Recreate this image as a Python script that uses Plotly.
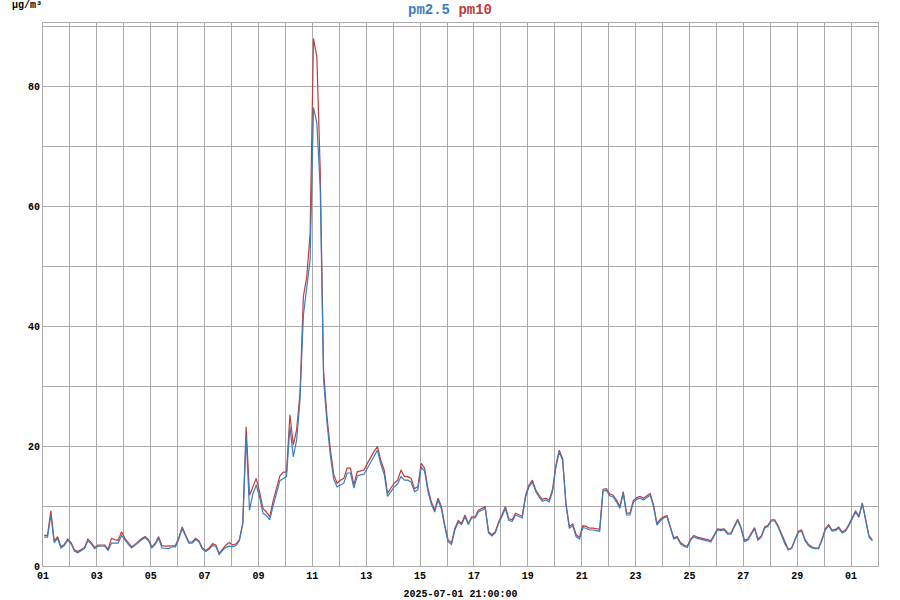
import pandas as pd
import plotly.graph_objects as go

start_time = "2025-06-01 01:00"
step = "3h"

pm25 = [
    4.8, 4.8, 8.5, 3.9, 4.6, 3.0, 3.4, 4.3,        # Jun 01
    3.7, 2.5, 2.2, 2.5, 2.9, 4.2, 3.7, 2.9,        # Jun 02
    3.3, 3.3, 3.3, 2.6, 3.8, 3.8, 3.8, 5.1,        # Jun 03
    4.3, 3.6, 3.0, 3.4, 3.9, 4.4, 4.7, 4.2,        # Jun 04
    3.0, 3.6, 4.6, 3.0, 3.0, 2.9, 3.2, 3.2,        # Jun 05
    4.5, 6.2, 5.0, 3.8, 3.8, 4.4, 4.0, 2.8,        # Jun 06
    2.4, 2.8, 3.4, 3.3, 1.9, 2.6, 3.1, 3.3,        # Jun 07
    3.2, 3.4, 4.2, 7.0, 21.6, 9.3, 12.0, 13.5,     # Jun 08
    11.5, 8.8, 8.4, 7.7, 10.0, 12.3, 14.2, 14.6,   # Jun 09
    14.9, 23.2, 18.2, 21.0, 27.7, 41.8, 46.0, 51.0,  # Jun 10
    76.4, 73.8, 63.0, 31.0, 24.0, 18.5, 14.5, 13.2,  # Jun 11
    13.5, 13.8, 15.5, 15.5, 13.0, 15.0, 15.2, 15.3,  # Jun 12
    16.3, 17.3, 18.5, 19.3, 17.0, 15.3, 11.6, 12.5,  # Jun 13
    13.2, 13.7, 14.9, 14.3, 14.3, 14.0, 12.4, 12.7,  # Jun 14
    16.5, 15.8, 12.4, 10.3, 9.0, 11.0, 9.5, 6.5,     # Jun 15
    4.0, 3.6, 6.0, 7.3, 6.9, 8.2, 6.9, 8.0,          # Jun 16
    8.0, 9.0, 9.3, 9.6, 5.5, 5.0, 5.5, 7.1,          # Jun 17
    8.3, 9.6, 7.6, 7.4, 8.5, 8.2, 8.0, 11.5,         # Jun 18
    13.2, 14.0, 12.4, 11.5, 10.8, 11.0, 10.7, 12.4,  # Jun 19
    16.5, 19.0, 17.6, 10.1, 6.3, 6.7, 4.9, 4.5,      # Jun 20
    6.4, 6.3, 6.0, 6.0, 5.9, 5.8, 12.5, 12.6,        # Jun 21
    11.7, 11.5, 10.7, 9.6, 12.1, 8.5, 8.5, 10.6,     # Jun 22
    11.1, 11.3, 11.0, 11.4, 11.8, 9.9, 6.8, 7.5,     # Jun 23
    8.0, 8.2, 6.2, 4.5, 4.7, 3.7, 3.3, 3.1,          # Jun 24
    4.3, 4.9, 4.6, 4.5, 4.4, 4.2, 4.0, 5.1,          # Jun 25
    6.0, 5.9, 6.0, 5.3, 5.3, 6.5, 7.6, 6.2,          # Jun 26
    4.1, 4.3, 5.3, 6.2, 4.3, 4.8, 6.3, 6.6,          # Jun 27
    7.5, 7.5, 6.5, 5.1, 3.7, 2.7, 2.9, 4.3,          # Jun 28
    5.6, 5.8, 4.2, 3.4, 3.0, 2.9, 2.9, 4.2,          # Jun 29
    6.0, 6.7, 5.8, 5.9, 6.3, 5.5, 5.8, 6.7,          # Jun 30
    7.8, 9.0, 8.1, 10.4, 7.6, 4.8, 4.2,              # Jul 01
]

pm10 = [
    5.1, 5.1, 9.2, 4.1, 4.9, 3.2, 3.6, 4.5,
    3.9, 2.7, 2.4, 2.7, 3.1, 4.5, 3.9, 3.1,
    3.5, 3.5, 3.5, 2.8, 4.6, 4.4, 4.3, 5.7,
    4.6, 3.9, 3.2, 3.6, 4.1, 4.6, 4.9, 4.4,
    3.2, 3.8, 4.9, 3.4, 3.3, 3.3, 3.4, 3.4,
    4.7, 6.5, 5.2, 4.0, 4.0, 4.6, 4.2, 3.0,
    2.6, 3.0, 3.7, 3.5, 2.1, 2.9, 3.5, 3.9,
    3.5, 3.7, 4.4, 7.2, 23.2, 11.8, 13.2, 14.6,
    12.3, 9.6, 9.0, 8.2, 10.8, 13.0, 15.0, 15.6,
    15.7, 25.2, 20.2, 22.7, 28.8, 44.9, 48.2, 55.4,
    87.9, 84.9, 66.0, 32.5, 25.0, 19.5, 15.3, 13.8,
    14.3, 14.6, 16.3, 16.3, 13.5, 15.7, 15.9, 16.0,
    17.1, 18.2, 19.1, 19.9, 17.6, 16.0, 12.1, 13.0,
    13.8, 14.3, 16.0, 14.9, 14.9, 14.6, 12.9, 13.2,
    17.1, 16.3, 12.9, 10.7, 9.3, 11.3, 9.9, 6.8,
    4.3, 3.9, 6.3, 7.6, 7.1, 8.5, 7.1, 8.2,
    8.2, 9.3, 9.6, 9.9, 5.7, 5.2, 5.7, 7.4,
    8.6, 9.9, 7.9, 7.7, 8.8, 8.5, 8.3, 11.8,
    13.5, 14.3, 12.7, 11.8, 11.1, 11.3, 11.0, 12.7,
    16.8, 19.3, 17.9, 10.4, 6.6, 7.0, 5.2, 4.8,
    6.7, 6.6, 6.3, 6.3, 6.2, 6.1, 12.8, 12.9,
    12.0, 11.8, 11.0, 9.9, 12.4, 8.8, 8.8, 10.9,
    11.4, 11.6, 11.3, 11.7, 12.1, 10.2, 7.1, 7.8,
    8.2, 8.4, 6.4, 4.7, 4.9, 3.9, 3.5, 3.3,
    4.5, 5.1, 4.8, 4.7, 4.6, 4.4, 4.2, 5.3,
    6.2, 6.1, 6.2, 5.5, 5.5, 6.7, 7.8, 6.4,
    4.3, 4.5, 5.5, 6.4, 4.5, 5.0, 6.5, 6.8,
    7.7, 7.7, 6.7, 5.3, 3.9, 2.8, 3.0, 4.5,
    5.8, 6.0, 4.4, 3.6, 3.2, 3.0, 3.0, 4.4,
    6.2, 6.9, 6.0, 6.1, 6.5, 5.7, 6.0, 6.9,
    8.0, 9.2, 8.3, 10.5, 7.8, 5.0, 4.4,
]

times = pd.date_range(start_time, periods=len(pm25), freq=step)

unit_label = "µg/m³"
x_title = "2025-07-01 21:00:00"
blue = "#3a7ebf"
red = "#c23b3b"
grid = "#ababab"
mono = "Liberation Mono"

fig = go.Figure()
fig.add_trace(go.Scatter(x=times, y=pm10, mode="lines", name="pm10",
                         line=dict(color=red, width=1.2)))
fig.add_trace(go.Scatter(x=times, y=pm25, mode="lines", name="pm2.5",
                         line=dict(color=blue, width=1.2)))

fig.update_layout(
    width=900, height=600,
    margin=dict(l=43, r=22, t=23, b=34, autoexpand=False),
    paper_bgcolor="white", plot_bgcolor="white",
    showlegend=False,
    title=dict(
        text=f"<span style='color:{blue}'>pm2.5</span> <span style='color:{red}'>pm10</span>",
        x=0.5, xanchor="center", y=1 - 9 / 600, yanchor="middle",
        font=dict(family=mono, size=14, weight="bold"),
    ),
    annotations=[dict(
        text=unit_label, xref="paper", yref="paper", x=-33 / 835, y=1 + 18 / 543,
        xanchor="left", yanchor="middle", showarrow=False,
        font=dict(family=mono, size=10, color="black", weight="bold"),
    )],
)

fig.update_xaxes(
    type="date",
    range=["2025-06-01", "2025-07-02"],
    tick0="2025-06-01", dtick=2 * 86400000, tickformat="%d",
    showgrid=True, gridcolor=grid, gridwidth=1,
    minor=dict(dtick=86400000, tick0="2025-06-01", showgrid=True, gridcolor=grid, gridwidth=1),
    showline=True, linecolor=grid, linewidth=1, mirror=True,
    ticks="", zeroline=False, automargin=False,
    tickfont=dict(family=mono, size=10, color="black", weight="bold"),
    title=dict(text=x_title, font=dict(family=mono, size=10, color="black", weight="bold"), standoff=10),
)
fig.update_yaxes(
    range=[0, 90.5], dtick=20, tick0=0,
    showgrid=True, gridcolor=grid, gridwidth=1,
    minor=dict(dtick=10, showgrid=True, gridcolor=grid, gridwidth=1),
    showline=True, linecolor=grid, linewidth=1, mirror=True,
    ticks="", zeroline=False, automargin=False,
    tickfont=dict(family=mono, size=10, color="black", weight="bold"),
)

fig.write_html("out.html", config={"displayModeBar": False},
               post_script="document.body.style.margin='0';")
